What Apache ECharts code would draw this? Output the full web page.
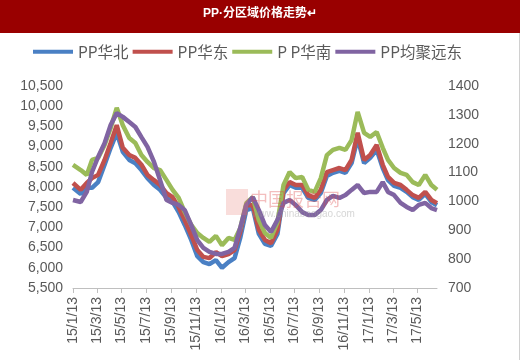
<!DOCTYPE html>
<html><head><meta charset="utf-8">
<script src="https://cdn.jsdelivr.net/npm/echarts@6/dist/echarts.min.js"></script>
<style>html,body{margin:0;padding:0;background:#fff}#c{width:520px;height:360px}</style>
</head><body><div id="c"></div>
<script>
const dates = ['2015-01-13','2015-02-01','2015-02-16','2015-03-01','2015-03-16','2015-04-01','2015-04-16','2015-05-01','2015-05-16','2015-06-01','2015-06-16','2015-07-01','2015-07-16','2015-08-01','2015-08-16','2015-09-01','2015-09-16','2015-10-01','2015-10-16','2015-11-01','2015-11-16','2015-12-01','2015-12-16',
'2016-01-01','2016-01-16','2016-02-01','2016-02-16','2016-03-01','2016-03-16','2016-04-01','2016-04-16','2016-05-01','2016-05-16','2016-06-01','2016-06-16','2016-07-01','2016-07-16','2016-08-01','2016-08-16','2016-09-01','2016-09-16','2016-10-01','2016-10-16','2016-11-01','2016-11-16','2016-12-01','2016-12-16',
'2017-01-01','2017-01-16','2017-02-01','2017-02-16','2017-03-01','2017-03-16','2017-04-01','2017-04-16','2017-05-01','2017-05-16','2017-06-01','2017-06-16','2017-06-30'];

const ppNorth = [7980,7830,7980,7980,8120,8550,8970,9340,8870,8670,8590,8420,8220,8050,7930,7730,7630,7380,7060,6690,6290,6140,6090,
6190,6000,6140,6240,6740,7430,7480,6840,6590,6540,6840,7850,8050,7980,7980,7730,7680,7850,8270,8350,8400,8350,8590,9210,
8590,8720,8920,8470,8170,8030,7980,7880,7750,7680,7830,7630,7550];

const ppEast = [8100,7930,8100,8220,8300,8670,9090,9530,8970,8790,8720,8550,8300,8170,8050,7850,7750,7500,7180,6810,6440,6270,6240,
6390,6290,6340,6440,6890,7550,7550,6940,6690,6610,6940,7930,8120,8050,8050,7800,7730,7930,8370,8420,8470,8420,8670,9340,
8670,8790,9040,8550,8250,8100,8050,7930,7800,7730,7880,7680,7600];

const ppSouth = [8550,8420,8300,8670,8720,9040,9460,9960,9530,9210,9090,8790,8620,8470,8420,8170,7930,7730,7380,7060,6860,6740,6640,
6790,6560,6740,6690,6980,7600,7750,7180,6860,6740,7130,8050,8370,8220,8250,7930,7880,8220,8790,8920,8970,8920,9160,9860,
9340,9240,9360,8970,8670,8470,8350,8300,8120,8050,8300,8050,7930];

const ppFarEast = [1005,998,1033,1102,1154,1202,1265,1306,1293,1275,1258,1223,1189,1137,1074,1005,995,988,970,918,866,839,825,
818,818,825,839,908,988,1015,970,918,894,936,995,1005,988,963,953,953,970,1005,1019,1012,1022,1040,1057,
1029,1033,1033,1067,1033,1022,995,981,970,988,995,977,970];

const seriesNames = ['PP华北','PP华东','P P华南','PP均聚远东'];
const seriesColors = ['#4a80c4','#c0504d','#9bbb59','#8064a2'];
const titleText = 'PP·分区域价格走势↵';

// daily categories for the x axis
const cats = [];
for (let t = Date.UTC(2015,0,13); t <= Date.UTC(2017,5,30); t += 86400000) {
  cats.push(new Date(t).toISOString().slice(0,10));
}
function isTick(idx, val) {
  const m = +val.slice(5,7), d = +val.slice(8,10);
  return d === 13 && m % 2 === 1;
}
function fmtDate(val) {
  return val.slice(2,4) + '/' + (+val.slice(5,7)) + '/' + (+val.slice(8,10));
}
const pair = arr => dates.map((t,i) => [t, arr[i]]);
const values = [ppNorth, ppEast, ppSouth, ppFarEast];

const chart = echarts.init(document.getElementById('c'), null, {renderer:'canvas'});
chart.setOption({
  animation: false,
  backgroundColor: '#ffffff',
  graphic: [
    {type:'rect', left:0, top:0, shape:{width:520, height:33}, style:{fill:'#990000'}, z:0},
    {type:'text', x:260, y:14, style:{text:titleText, fill:'#ffffff', font:'bold 12px "Liberation Sans", "Noto Sans CJK SC"', textAlign:'center', textVerticalAlign:'middle'}, z:1},
    {type:'rect', left:519, top:33, shape:{width:1, height:327}, style:{fill:'#d0d0d0'}, z:0},
    {type:'rect', left:226, top:189, shape:{width:22, height:26}, style:{fill:'rgba(230,120,110,0.25)'}, z:20},
    {type:'text', x:250, y:199, style:{text:'中国报告网', fill:'rgba(220,70,70,0.35)', font:'18px "Noto Sans CJK SC"', textVerticalAlign:'middle'}, z:20},
    {type:'text', x:252, y:214, style:{text:'www.chinabaogao.com', fill:'rgba(150,150,150,0.4)', font:'10px "Liberation Sans"', textVerticalAlign:'middle'}, z:20}
  ],
  legend: {
    left: 33, top: 44, padding: 0,
    icon: 'rect', itemWidth: 40, itemHeight: 4, itemGap: 4,
    textStyle: {fontSize: 15.5, color: '#595959', fontFamily: '"Noto Sans CJK SC"'},
    data: seriesNames
  },
  grid: {left: 73, right: 83, top: 86, bottom: 72, containLabel: false},
  xAxis: {
    type: 'category', data: cats, boundaryGap: false,
    axisLine: {lineStyle: {color: '#bfbfbf'}},
    axisTick: {interval: isTick, length: 5, lineStyle: {color: '#bfbfbf'}},
    axisLabel: {interval: isTick, rotate: 90, formatter: fmtDate, fontSize: 14, color: '#595959', fontFamily: '"Liberation Sans"', margin: 9},
    splitLine: {show: false}
  },
  yAxis: [
    {type:'value', min:5500, max:10500, interval:500, axisLine:{show:false}, axisTick:{show:false}, splitLine:{show:false},
     axisLabel:{formatter: v => v.toLocaleString('en-US'), fontSize:14, color:'#595959', fontFamily:'"Liberation Sans"', margin:10}},
    {type:'value', min:700, max:1400, interval:100, position:'right', axisLine:{show:false}, axisTick:{show:false}, splitLine:{show:false},
     axisLabel:{formatter: v => String(v), fontSize:14, color:'#595959', fontFamily:'"Liberation Sans"', margin:11}}
  ],
  series: seriesNames.map((n,i) => ({
    name: n, type: 'line', yAxisIndex: i === 3 ? 1 : 0,
    data: pair(values[i]), symbol: 'none', showSymbol: false,
    lineStyle: {width: 4.5, color: seriesColors[i]}, itemStyle: {color: seriesColors[i]}
  }))
});
</script></body></html>
